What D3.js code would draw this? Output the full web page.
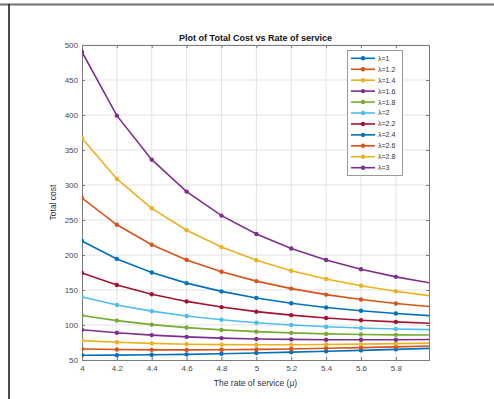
<!DOCTYPE html>
<meta charset="utf-8">
<html lang="en">
  <head>
    <style>
      body { margin: 0; background-color: #fff; }
      svg { display: block; font-family: "Liberation Sans", Arial, sans-serif; }
      .grid line { stroke: #e3e3e3; stroke-width: 1px; }
      .tick-label { fill: #4a4a4a; font-size: 8px; }
      .series { fill: none; stroke-width: 1.6px; }
      .legend-text { fill: #333; font-size: 7px; }
    </style>
  </head>
  <body>
    <script src="https://d3js.org/d3.v7.min.js"></script>
    <script>

      // rate of service (x values)
      var mu = [4, 4.2, 4.4, 4.6, 4.8, 5, 5.2, 5.4, 5.6, 5.8, 6];

      // total cost per arrival rate
      var cost1  = [56.7, 56.9, 57.4, 58.1, 59.0, 60.0, 61.2, 62.4, 63.8, 65.2, 66.7];
      var cost12 = [65.7, 64.9, 64.5, 64.4, 64.7, 65.2, 65.8, 66.7, 67.7, 68.8, 70.0];
      var cost14 = [77.7, 75.3, 73.7, 72.6, 72.0, 71.8, 71.8, 72.1, 72.7, 73.4, 74.2];
      var cost16 = [93.3, 88.9, 85.6, 83.1, 81.3, 80.1, 79.4, 79.0, 78.9, 79.0, 79.4];
      var cost18 = [113.6, 106.3, 100.6, 96.3, 93.0, 90.5, 88.7, 87.3, 86.5, 85.9, 85.7];
      var cost2  = [140.0, 128.6, 119.8, 112.9, 107.5, 103.3, 100.1, 97.6, 95.7, 94.3, 93.3];
      var cost22 = [174.4, 157.2, 144.0, 133.7, 125.6, 119.1, 114.1, 110.0, 106.8, 104.4, 102.5];
      var cost24 = [220.0, 194.4, 174.9, 159.8, 148.0, 138.6, 131.1, 125.1, 120.3, 116.4, 113.3];
      var cost26 = [281.4, 243.2, 214.7, 193.0, 176.0, 162.7, 152.0, 143.4, 136.5, 130.8, 126.3];
      var cost28 = [366.7, 308.7, 266.7, 235.4, 211.3, 192.5, 177.6, 165.7, 156.0, 148.1, 141.7];
      var cost3  = [490.0, 399.1, 336.2, 290.6, 256.3, 230.0, 209.3, 192.9, 179.6, 168.8, 160.0];

      var seriesNames = ["λ=1", "λ=1.2", "λ=1.4", "λ=1.6", "λ=1.8", "λ=2",
                         "λ=2.2", "λ=2.4", "λ=2.6", "λ=2.8", "λ=3"];
      var seriesValues = [cost1, cost12, cost14, cost16, cost18, cost2,
                          cost22, cost24, cost26, cost28, cost3];

      var xTicks = [4, 4.2, 4.4, 4.6, 4.8, 5, 5.2, 5.4, 5.6, 5.8];
      var yTicks = [50, 100, 150, 200, 250, 300, 350, 400, 450, 500];

      var colors = ["#0072BD", "#D95319", "#EDB120", "#7E2F8E", "#77AC30", "#4DBEEE",
                    "#A2142F", "#0072BD", "#D95319", "#EDB120", "#7E2F8E"];

      var width = 494, height = 399;
      var plot = { left: 82, right: 429, top: 45, bottom: 360 };

      var svg = d3.select("body").append("svg")
        .attr("width", width)
        .attr("height", height);

      // page frame
      svg.append("line")
        .attr("x1", 0).attr("x2", width).attr("y1", 4.5).attr("y2", 4.5)
        .attr("stroke", "#6e6e6e").attr("stroke-width", 2);
      svg.append("line")
        .attr("x1", 9).attr("x2", 9).attr("y1", 4).attr("y2", height)
        .attr("stroke", "#111").attr("stroke-width", 1.5);

      var x = d3.scaleLinear().domain([4, 5.99]).range([plot.left, plot.right]);
      var y = d3.scaleLinear().domain([50, 500]).range([plot.bottom, plot.top]);

      var defs = svg.append("defs");
      defs.append("clipPath").attr("id", "clip")
        .append("rect")
        .attr("x", plot.left).attr("y", plot.top)
        .attr("width", plot.right - plot.left)
        .attr("height", plot.bottom - plot.top);

      // grid
      var grid = svg.append("g").attr("class", "grid");
      grid.selectAll(".vx").data(xTicks.slice(1)).enter().append("line")
        .attr("x1", function(d) { return x(d); }).attr("x2", function(d) { return x(d); })
        .attr("y1", plot.top).attr("y2", plot.bottom);
      grid.selectAll(".hy").data(yTicks.slice(1)).enter().append("line")
        .attr("y1", function(d) { return y(d); }).attr("y2", function(d) { return y(d); })
        .attr("x1", plot.left).attr("x2", plot.right);

      // axes (inside ticks on all four sides, like the box)
      var tickLen = 3;
      svg.append("g").attr("transform", "translate(0," + plot.bottom + ")")
        .call(d3.axisBottom(x).tickValues(xTicks).tickSize(-tickLen).tickFormat(d3.format("")))
        .call(styleAxis);
      svg.append("g").attr("transform", "translate(0," + plot.top + ")")
        .call(d3.axisTop(x).tickValues(xTicks).tickSize(-tickLen).tickFormat(""))
        .call(styleAxis);
      svg.append("g").attr("transform", "translate(" + plot.left + ",0)")
        .call(d3.axisLeft(y).tickValues(yTicks).tickSize(-tickLen))
        .call(styleAxis);
      svg.append("g").attr("transform", "translate(" + plot.right + ",0)")
        .call(d3.axisRight(y).tickValues(yTicks).tickSize(-tickLen).tickFormat(""))
        .call(styleAxis);

      function styleAxis(g) {
        g.select(".domain").attr("stroke", "#7a7a7a").attr("stroke-width", 1);
        g.selectAll(".tick line").attr("stroke", "#7a7a7a");
        g.selectAll(".tick text").attr("class", "tick-label")
          .attr("font-family", null).attr("font-size", null);
      }
      svg.selectAll(".tick text").filter(function() {
        return this.parentNode.parentNode.getAttribute("transform") === "translate(0," + plot.bottom + ")";
      }).attr("dy", "0.5em").attr("y", 7);
      svg.selectAll("g[transform='translate(" + plot.left + ",0)'] .tick text").attr("x", -4);

      // series
      var line = d3.line()
        .x(function(d, i) { return x(mu[i]); })
        .y(function(d) { return y(d); });

      var lines = svg.append("g").attr("clip-path", "url(#clip)");
      seriesValues.forEach(function(vals, k) {
        lines.append("path")
          .attr("class", "series")
          .attr("stroke", colors[k])
          .attr("d", line(vals));
        lines.selectAll(".m" + k)
          .data(vals.filter(function(d, i) { return mu[i] <= 5.99; }))
          .enter().append("circle")
          .attr("cx", function(d, i) { return x(mu[i]); })
          .attr("cy", function(d) { return y(d); })
          .attr("r", 2.2)
          .attr("fill", colors[k]);
      });

      // titles
      svg.append("text")
        .attr("x", (plot.left + plot.right) / 2).attr("y", 40.5)
        .attr("text-anchor", "middle")
        .attr("font-size", 9).attr("font-weight", "bold").attr("fill", "#111")
        .text("Plot of Total Cost vs Rate of service");
      svg.append("text")
        .attr("x", (plot.left + plot.right) / 2).attr("y", 385.5)
        .attr("text-anchor", "middle")
        .attr("font-size", 8.5).attr("fill", "#333")
        .text("The rate of service (μ)");
      svg.append("text")
        .attr("transform", "translate(56," + (plot.top + plot.bottom) / 2 + ") rotate(-90)")
        .attr("text-anchor", "middle")
        .attr("font-size", 8.5).attr("fill", "#333")
        .text("Total cost");

      // legend
      var legend = svg.append("g");
      legend.append("rect")
        .attr("x", 347.5).attr("y", 50.5).attr("width", 55).attr("height", 125)
        .attr("fill", "#fff").attr("stroke", "#9a9a9a").attr("stroke-width", 1);
      var ly = d3.scaleLinear().domain([0, seriesNames.length - 1]).range([58.3, 167.7]);
      var items = legend.selectAll(".item").data(seriesNames).enter().append("g")
        .attr("transform", function(d, i) { return "translate(0," + ly(i) + ")"; });
      items.append("line")
        .attr("x1", 351).attr("x2", 375).attr("y1", 0).attr("y2", 0)
        .attr("stroke", function(d, i) { return colors[i]; })
        .attr("stroke-width", 1.6);
      items.append("circle")
        .attr("cx", 363).attr("cy", 0).attr("r", 2.2)
        .attr("fill", function(d, i) { return colors[i]; });
      items.append("text")
        .attr("class", "legend-text")
        .attr("x", 378).attr("y", 0).attr("dy", "0.35em")
        .text(function(d) { return d; });

    </script>
  </body>
</html>
